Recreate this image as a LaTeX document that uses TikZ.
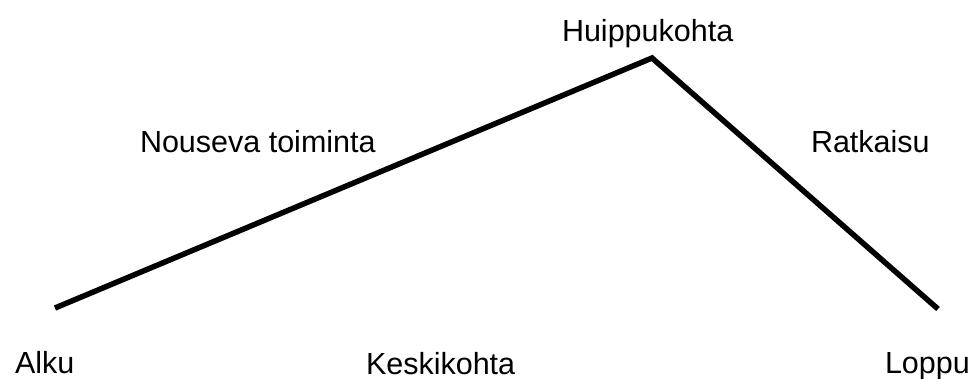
\documentclass[tikz,border=0pt]{standalone}
\usepackage{fontspec}
\setmainfont{Liberation Sans}
\begin{document}
\begin{tikzpicture}[x=1pt,y=-1pt,
  lbl/.style={inner sep=0pt,outer sep=0pt,anchor=base west,font=\fontsize{30.5}{36}\selectfont},
  plot/.style={line width=5.5pt,line join=miter,line cap=butt}]
\useasboundingbox (0,0) rectangle (974,378);
\coordinate (start) at (55,308);
\coordinate (peak) at (652,58);
\coordinate (finish) at (938,309);
\draw[plot] (start) -- (peak) -- (finish);
\node[lbl] (huippu) at (562,41) {Huippukohta};
\node[lbl] (nouseva) at (140,152.5) {Nouseva toiminta};
\node[lbl] (ratkaisu) at (811,152) {Ratkaisu};
\node[lbl] (alku) at (15,373) {Alku};
\node[lbl] (keski) at (366,374) {Keskikohta};
\node[lbl] (loppu) at (885,373) {Loppu};
\end{tikzpicture}
\end{document}
